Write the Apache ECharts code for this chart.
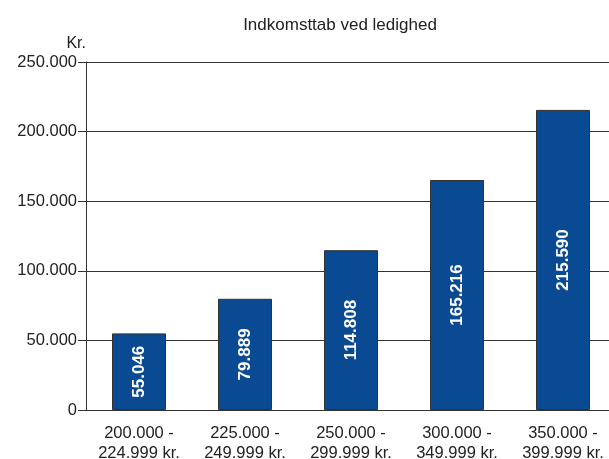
<!DOCTYPE html>
<html>
<head>
<meta charset="utf-8">
<script src="https://cdn.jsdelivr.net/npm/echarts@6/dist/echarts.min.js"></script>
<style>
  html, body { margin: 0; padding: 0; background: #fff; }
  #chart { width: 609px; height: 459px; }
</style>
</head>
<body>
<div id="chart"></div>
<script>
const categories = ['200.000 -\n224.999 kr.', '225.000 -\n249.999 kr.', '250.000 -\n299.999 kr.', '300.000 -\n349.999 kr.', '350.000 -\n399.999 kr.'];
const values = [55046, 79889, 114808, 165216, 215590];

function fmt(v) {
    // Danish thousands separator
    return String(v).replace(/\B(?=(\d{3})+(?!\d))/g, '.');
}

let chart = echarts.init(document.getElementById('chart'));

let option = {
    animation: false,
    textStyle: { fontFamily: 'Liberation Sans, Arial, sans-serif' },
    title: {
        text: 'Indkomsttab ved ledighed',
        left: 335,
        top: 12,
        textAlign: 'center',
        textStyle: { fontSize: 17, fontWeight: 'normal', color: '#222' }
    },
    grid: { left: 86, top: 62, width: 530, height: 348, containLabel: false, outerBoundsMode: 'none' },
    xAxis: {
        type: 'category',
        data: categories,
        axisLine: { lineStyle: { color: '#333', width: 1 } },
        axisTick: { show: false },
        axisLabel: { color: '#222', fontSize: 16.5, lineHeight: 20, margin: 13, interval: 0 }
    },
    yAxis: {
        type: 'value',
        min: 0,
        max: 250000,
        interval: 50000,
        name: 'Kr.',
        nameLocation: 'end',
        nameGap: 10,
        nameTextStyle: { color: '#222', fontSize: 16, align: 'right', padding: [0, 0, 0, 0] },
        axisLine: { show: true, lineStyle: { color: '#333', width: 1 } },
        axisTick: { show: true, length: 8, lineStyle: { color: '#333' } },
        axisLabel: { color: '#222', fontSize: 16.5, margin: 9, formatter: fmt },
        splitLine: { lineStyle: { color: '#333', width: 1 } }
    },
    series: [
        {
            type: 'bar',
            data: values,
            barWidth: 54,
            itemStyle: { color: '#0a4a93', borderColor: '#333', borderWidth: 1 },
            label: {
                show: true,
                position: 'inside',
                rotate: 90,
                color: '#fff',
                fontSize: 17,
                fontWeight: 'bold',
                formatter: p => fmt(p.value)
            }
        }
    ]
};

chart.setOption(option);
</script>
</body>
</html>
